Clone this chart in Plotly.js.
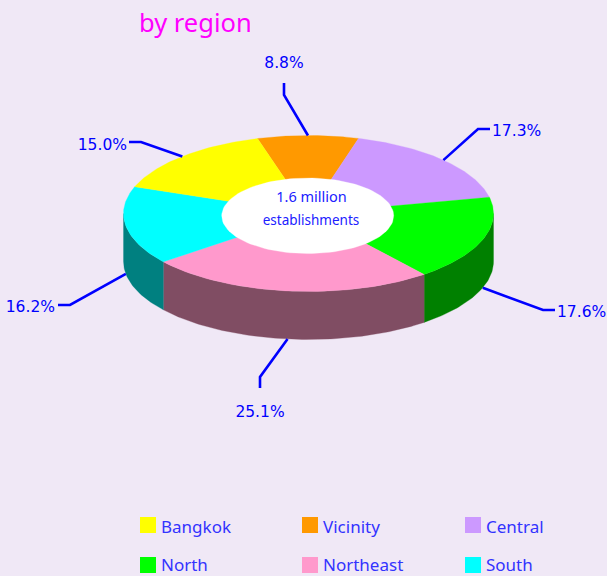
<!DOCTYPE html>
<html><head><meta charset="utf-8">
<script src="https://cdn.plot.ly/plotly-3.0.1.min.js"></script>
<style>html,body{margin:0;padding:0;background:#f0e8f6}</style></head>
<body><div id="chart" style="width:607px;height:576px"></div>
<script>
// Data (clockwise from the slice at the top)
const regions = ['Vicinity','Central','North','Northeast','South','Bangkok'];
const shares = [8.8,17.3,17.6,25.1,16.2,15.0];
const topColors = ['#ff9900','#cc99ff','#00ff00','#ff99cc','#00ffff','#ffff00'];
const sideColors = ['#804d00','#664d80','#008000','#804d63','#008080','#808000'];
const legendOrder = ['Bangkok','Vicinity','Central','North','Northeast','South'];
const centerLines = ['1.6 million','establishments'];
const titleText = 'by region';

// Layout constants (pixels)
const CX=308.5,CY=213.5,RX=185,RY=78,DEPTH=48,START=-16;
const HOLE={cx:307.7,cy:215.8,rx:86,ry:37.8};
const elbows=[[284,95,284,83],[478,129,490,129],[543,310,555,310],[260,377,260,388],[70,305,58,305],[141,142,129,142]];
const labelAt=[[284,64,'middle center'],[492,132,'middle right'],[557,313,'middle right'],[260,413,'middle center'],[55,308,'middle left'],[127,146,'middle left']];
const legendX=[140,302,465],legendY=[525,565],legendTextY=[529,567];

const BG='#f0e8f6',BLUE='#0000ff',LEGEND='#3333ff';
const FONT='"Noto Sans", sans-serif';
const LABELFONT='"DejaVu Sans", sans-serif';
const pt=(deg,dy=0)=>{const r=deg*Math.PI/180;return [CX+RX*Math.sin(r),CY-RY*Math.cos(r)+dy];};
const arc=(a,b,dy=0)=>{const out=[];const n=Math.max(2,Math.ceil(Math.abs(b-a)));for(let i=0;i<=n;i++)out.push(pt(a+(b-a)*i/n,dy));return out;};
const poly=(pts,color)=>({type:'scatter',mode:'lines',x:pts.map(p=>p[0]),y:pts.map(p=>p[1]),fill:'toself',fillcolor:color,line:{color:color,width:0.3},hoverinfo:'skip',showlegend:false});

const traces=[];
let edges=[START];
shares.forEach(s=>edges.push(edges[edges.length-1]+s*3.6));

// side walls (visible front half only)
shares.forEach((s,i)=>{
  const a=Math.max(edges[i],90),b=Math.min(edges[i+1],270);
  if(b>a){
    const pts=arc(a,b,0).concat(arc(b,a,DEPTH));
    pts.push(pts[0]);
    traces.push(poly(pts,sideColors[i]));
  }
});
// top faces
shares.forEach((s,i)=>{
  const pts=[[CX,CY]].concat(arc(edges[i],edges[i+1]));
  pts.push([CX,CY]);
  traces.push(poly(pts,topColors[i]));
});
// hole
{
  const pts=[];
  for(let d=0;d<=360;d+=3){const r=d*Math.PI/180;pts.push([HOLE.cx+HOLE.rx*Math.cos(r),HOLE.cy+HOLE.ry*Math.sin(r)]);}
  traces.push(poly(pts,'#ffffff'));
}
// leader lines + percentage labels
shares.forEach((s,i)=>{
  const mid=(edges[i]+edges[i+1])/2;
  const norm=((mid%360)+360)%360;
  const front=norm>90&&norm<270;
  const st=pt(mid,front?DEPTH:0);
  const e=elbows[i];
  traces.push({type:'scatter',mode:'lines',x:[st[0],e[0],e[2]],y:[st[1],e[1],e[3]],line:{color:BLUE,width:2.6},hoverinfo:'skip',showlegend:false});
  const l=labelAt[i];
  traces.push({type:'scatter',mode:'text',x:[l[0]],y:[l[1]],text:[s.toFixed(1)+'%'],textposition:l[2],textfont:{family:LABELFONT,size:15.5,color:BLUE},hoverinfo:'skip',showlegend:false});
});
// center text
traces.push({type:'scatter',mode:'text',x:[311.5],y:[198],text:[centerLines[0]],textposition:'middle center',textfont:{family:FONT,size:14.5,color:'#2020ff'},hoverinfo:'skip',showlegend:false});
traces.push({type:'scatter',mode:'text',x:[311],y:[222],text:[centerLines[1]],textposition:'middle center',textfont:{family:FONT,size:13.5,color:'#2020ff'},hoverinfo:'skip',showlegend:false});
// legend
legendOrder.forEach((name,k)=>{
  const row=Math.floor(k/3);
  const x=legendX[k%3]+8,y=legendY[row];
  const c=topColors[regions.indexOf(name)];
  traces.push({type:'scatter',mode:'markers',x:[x],y:[y],marker:{symbol:'square',size:16,color:c,line:{width:0}},hoverinfo:'skip',showlegend:false});
  traces.push({type:'scatter',mode:'text',x:[x+13],y:[legendTextY[row]],text:[name],textposition:'middle right',textfont:{family:FONT,size:17,color:LEGEND},hoverinfo:'skip',showlegend:false});
});

const axis={visible:false,fixedrange:true};
const layout={
  width:607,height:576,margin:{l:0,r:0,t:0,b:0},
  paper_bgcolor:BG,plot_bgcolor:BG,showlegend:false,
  title:{text:titleText,x:139/607,xanchor:'left',y:1-23/576,yanchor:'middle',font:{family:FONT,size:25.5,color:'#ff00ff'}},
  xaxis:Object.assign({},axis,{range:[0,607]}),
  yaxis:Object.assign({},axis,{range:[576,0]})
};
Plotly.newPlot('chart',traces,layout,{displayModeBar:false,staticPlot:true});
</script></body></html>
